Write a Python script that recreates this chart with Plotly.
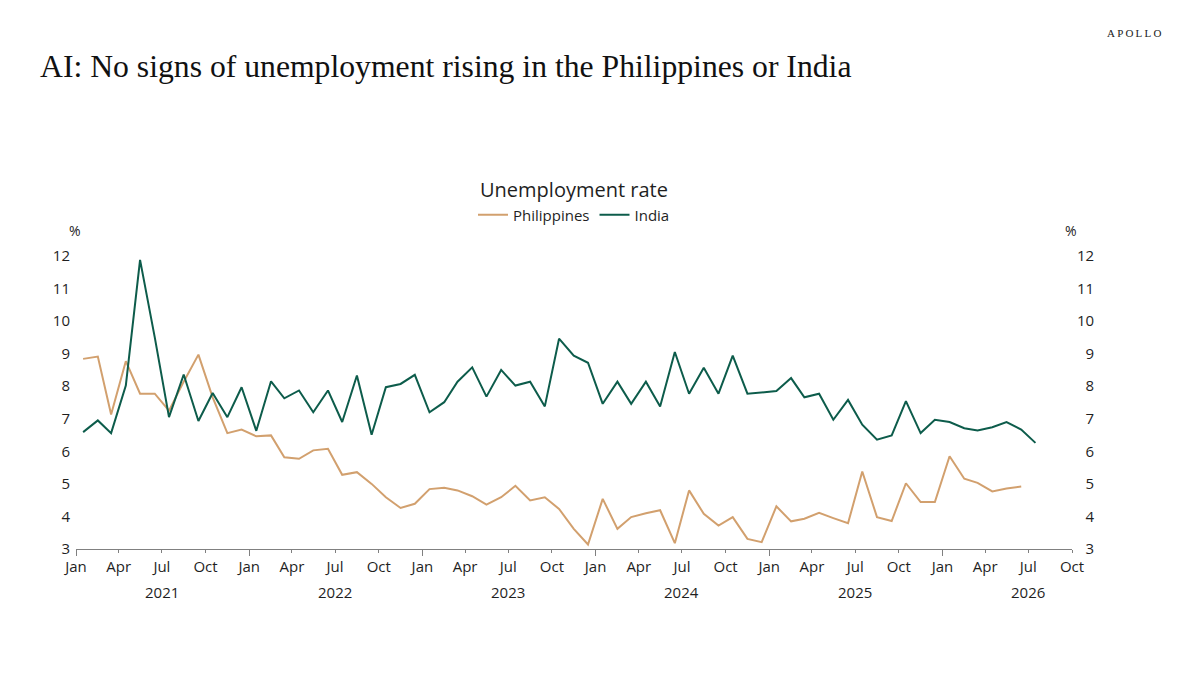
import pandas as pd
import plotly.graph_objects as go

# ---- data ----
india = [6.59, 6.95, 6.56, 8.02, 11.88, 9.5, 7.05, 8.36, 6.93, 7.79, 7.05, 7.97,
         6.63, 8.15, 7.63, 7.87, 7.2, 7.87, 6.9, 8.33, 6.51, 7.97, 8.07, 8.35,
         7.2, 7.51, 8.14, 8.58, 7.68, 8.5, 8.02, 8.14, 7.38, 9.46, 8.94, 8.72,
         7.46, 8.14, 7.46, 8.14, 7.38, 9.05, 7.77, 8.57, 7.77, 8.94, 7.77, 7.82,
         7.85, 8.25, 7.66, 7.77, 6.97, 7.58, 6.82, 6.36, 6.49, 7.54, 6.56, 6.97,
         6.9, 6.71, 6.64, 6.74, 6.9, 6.67, 6.26]
philippines = [8.84, 8.91, 7.13, 8.77, 7.77, 7.77, 7.25, 8.14, 8.97, 7.66, 6.56, 6.67,
               6.46, 6.49, 5.82, 5.77, 6.03, 6.08, 5.28, 5.36, 5.0, 4.59, 4.26, 4.39,
               4.84, 4.88, 4.8, 4.62, 4.36, 4.59, 4.94, 4.49, 4.59, 4.23, 3.62, 3.14,
               4.54, 3.62, 3.98, 4.1, 4.19, 3.18, 4.8, 4.08, 3.72, 3.98, 3.31, 3.21,
               4.31, 3.85, 3.93, 4.11, 3.95, 3.79, 5.38, 3.98, 3.86, 5.02, 4.44, 4.44,
               5.85, 5.16, 5.03, 4.77, 4.86, 4.92]
start_month = "2021-01-01"
years = [2021, 2022, 2023, 2024, 2025, 2026]
quarter_labels = ["Jan", "Apr", "Jul", "Oct"]
y_ticks = [3, 4, 5, 6, 7, 8, 9, 10, 11, 12]
x_range = ["2021-01-01", "2026-10-01"]

months_india = pd.date_range(start_month, periods=len(india), freq="MS") + pd.Timedelta(days=15)
months_phil = pd.date_range(start_month, periods=len(philippines), freq="MS") + pd.Timedelta(days=15)

tick_vals = [f"{y}-{m:02d}-01" for y in years for m in (1, 4, 7, 10)]
tick_text = [quarter_labels[i % 4] for i in range(len(tick_vals))]
jan_vals = [f"{y}-01-01" for y in years]

PHIL = "#d2a06e"
IND = "#0d5c4b"
SANS = "Open Sans"
SERIF = "Liberation Serif"
TXT = "#1f1f1f"

fig = go.Figure()
fig.add_trace(go.Scatter(x=months_phil, y=philippines, mode="lines", name="Philippines",
                         line=dict(color=PHIL, width=2), xaxis="x", yaxis="y"))
fig.add_trace(go.Scatter(x=months_india, y=india, mode="lines", name="India",
                         line=dict(color=IND, width=2), xaxis="x2", yaxis="y2"))

axis_font = dict(family=SANS, size=15, color=TXT)

fig.update_layout(
    width=1200, height=675,
    paper_bgcolor="white", plot_bgcolor="white",
    margin=dict(l=76, r=128, t=256, b=126),
    showlegend=True,
    legend=dict(orientation="h", x=0.5, xanchor="center", y=1.14, yanchor="middle",
                font=dict(family=SANS, size=15, color=TXT), itemwidth=30,
                bgcolor="rgba(0,0,0,0)", tracegroupgap=0),
    title=dict(text="AI: No signs of unemployment rising in the Philippines or India",
               x=40 / 1200, xanchor="left", xref="container",
               y=1 - 66 / 675, yanchor="middle", yref="container",
               font=dict(family=SERIF, size=31.7, color="#111111")),
    xaxis=dict(type="date", range=x_range, tickvals=tick_vals, ticktext=tick_text,
               ticks="outside", ticklen=3, tickcolor="#808080", tickwidth=1,
               showline=True, linecolor="#808080", linewidth=1,
               showgrid=False, zeroline=False, tickfont=axis_font, anchor="y",
               ticklabelstandoff=1),
    xaxis2=dict(type="date", range=x_range, tickvals=jan_vals, overlaying="x",
                ticks="outside", ticklen=6, tickcolor="#808080", tickwidth=1,
                showticklabels=False, showline=False, showgrid=False, zeroline=False,
                anchor="y2", side="bottom"),
    yaxis=dict(range=[3, 12], tickvals=y_ticks, ticktext=[str(v) for v in y_ticks],
               showgrid=False, zeroline=False, showline=False, ticks="",
               tickfont=axis_font, ticklabelstandoff=5, anchor="x"),
    yaxis2=dict(range=[3, 12], tickvals=y_ticks,
                ticktext=[("\u2007" + str(v)) if v < 10 else str(v) for v in y_ticks],
                overlaying="y", side="right", anchor="x2",
                showgrid=False, zeroline=False, showline=False, ticks="",
                tickfont=axis_font, ticklabelstandoff=4),
)

annotations = [
    dict(text="Unemployment rate", xref="paper", yref="paper", x=0.5, y=1.2256,
         xanchor="center", yanchor="middle", showarrow=False,
         font=dict(family=SANS, size=20, color=TXT)),
    dict(text="%", xref="paper", yref="paper", x=-0.001, y=1.0855,
         xanchor="center", yanchor="middle", showarrow=False,
         font=dict(family=SANS, size=14, color=TXT)),
    dict(text="%", xref="paper", yref="paper", x=0.999, y=1.0855,
         xanchor="center", yanchor="middle", showarrow=False,
         font=dict(family=SANS, size=14, color=TXT)),
    dict(text="A\u2009P\u2009O\u2009L\u2009L\u2009O", xref="paper", yref="paper",
         x=(1163 - 76) / 996, y=(548.5 - 33) / 293, xanchor="right", yanchor="middle",
         showarrow=False, font=dict(family=SERIF, size=11, color="#222222")),
]
for y in years:
    annotations.append(dict(text=str(y), xref="x", yref="paper", x=f"{y}-07-01", y=0,
                            xanchor="center", yanchor="top", yshift=-31, showarrow=False,
                            font=axis_font))
fig.update_layout(annotations=annotations)

fig.write_html("out.html", config={"displayModeBar": False},
               post_script="document.body.style.margin='0';")
